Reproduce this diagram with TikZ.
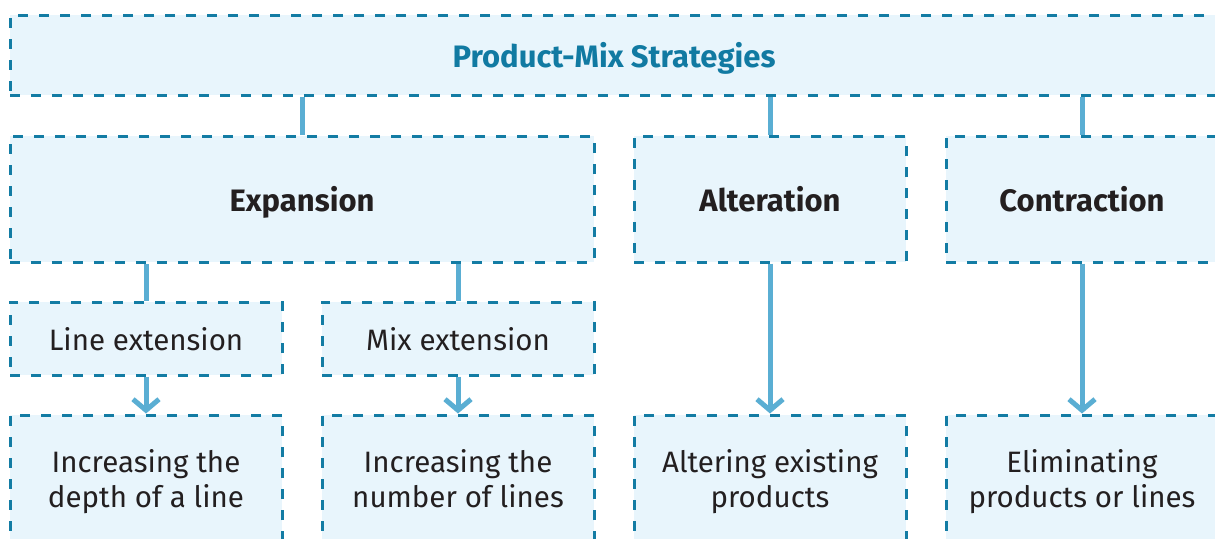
\documentclass[tikz,border=0pt]{standalone}
\usepackage{fontspec}
\setmainfont{Fira Sans}
\usetikzlibrary{arrows.meta}
\definecolor{dashes}{HTML}{137CA4}
\definecolor{boxfill}{HTML}{E8F5FC}
\definecolor{links}{HTML}{5AAED3}
\definecolor{heading}{HTML}{117AA2}
\definecolor{ink}{HTML}{231F20}
\newcommand{\boxhead}[1]{{\fontsize{31}{36}\selectfont\bfseries #1}}
\tikzset{box/.style={draw=dashes,fill=boxfill,line width=3pt,dash pattern=on 10pt off 11pt,inner sep=0pt,align=center,text depth=0pt,text=ink,font=\fontsize{29.5}{35.5}\selectfont}}
\tikzset{link/.style={draw=links,line width=5pt}}
\tikzset{arrow/.style={link,-{Straight Barb[length=11pt,width=26pt]}}}

\begin{document}
\begin{tikzpicture}[x=1pt,y=-1pt]
    % frame of the picture, boxes run off the right and bottom edges
    \useasboundingbox (0,0) rectangle (1215,538);
    \clip (0,0) rectangle (1215,538);

    %top
    \node [box,minimum width=1208pt,minimum height=80pt,text=heading] (mix) at (614,55) {\boxhead{Product-Mix Strategies}};

    %strategies
    \node [box,minimum width=584pt,minimum height=126pt] (exp) at (302,199) {\boxhead{Expansion}};
    \node [box,minimum width=272pt,minimum height=126pt] (alt) at (770,199) {\boxhead{Alteration}};
    \node [box,minimum width=272pt,minimum height=126pt] (con) at (1082,199) {\boxhead{Contraction}};

    %kinds of expansion
    \node [box,minimum width=272pt,minimum height=73pt] (lext) at (146,338.5) {Line extension};
    \node [box,minimum width=272pt,minimum height=73pt] (mext) at (458,338.5) {Mix extension};

    %what they do
    \node [box,minimum width=272pt,minimum height=127pt] (depth) at (146,478.5) {Increasing the\\depth of a line};
    \node [box,minimum width=272pt,minimum height=127pt] (number) at (458,478.5) {Increasing the\\number of lines};
    \node [box,minimum width=272pt,minimum height=127pt] (altering) at (770,478.5) {Altering existing\\products};
    \node [box,minimum width=272pt,minimum height=127pt] (elim) at (1082,478.5) {Eliminating\\products or lines};

    %links
    \draw [link] (exp.north) -- (exp.north |- mix.south);
    \draw [link] (alt.north) -- (alt.north |- mix.south);
    \draw [link] (con.north) -- (con.north |- mix.south);
    \draw [link] (lext.north) -- (lext.north |- exp.south);
    \draw [link] (mext.north) -- (mext.north |- exp.south);

    %arrows
    \draw [arrow] (lext.south) -- (depth.north);
    \draw [arrow] (mext.south) -- (number.north);
    \draw [arrow] (alt.south) -- (altering.north);
    \draw [arrow] (con.south) -- (elim.north);
\end{tikzpicture}
\end{document}
